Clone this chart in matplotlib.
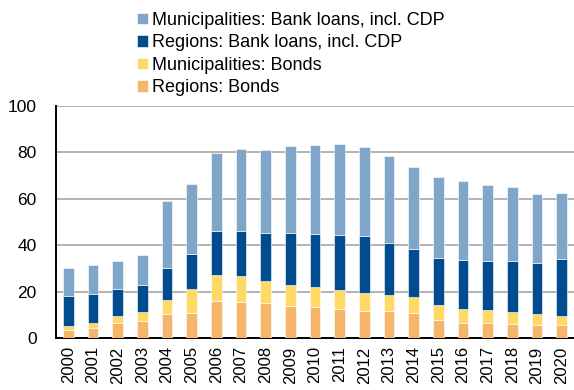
import matplotlib
matplotlib.use("Agg")
import matplotlib.pyplot as plt
import numpy as np

plt.rcParams['font.family'] = ['Liberation Sans', 'DejaVu Sans']

years = [str(y) for y in range(2000, 2021)]
# cumulative readings (stack tops) from the picture
tot_top = [30.3, 31.3, 33.4, 35.6, 59.1, 66.4, 79.7, 81.4, 81.1, 82.9, 83.2,
           83.6, 82.2, 78.3, 73.8, 69.2, 67.7, 66.0, 64.9, 62.0, 62.3]
blue_top = [18.0, 18.9, 21.0, 22.8, 30.1, 36.3, 46.1, 46.1, 45.4, 45.4, 44.7,
            44.2, 43.9, 40.9, 38.2, 34.6, 33.7, 33.1, 33.1, 32.3, 33.9]
yel_top = [5.3, 6.5, 9.4, 11.1, 16.3, 21.0, 27.1, 26.6, 24.5, 22.8, 21.9,
           20.6, 19.5, 18.7, 17.7, 14.1, 12.5, 11.9, 11.1, 10.5, 9.6]
regions_bonds = [3.3, 4.2, 6.5, 7.2, 10.4, 10.8, 15.8, 15.4, 15.0, 13.8, 13.2,
                 12.4, 11.8, 11.5, 10.6, 7.8, 6.5, 6.5, 6.0, 5.5, 5.5]

regions_bonds = np.array(regions_bonds)
municipalities_bonds = np.array(yel_top) - regions_bonds
regions_bank = np.array(blue_top) - np.array(yel_top)
municipalities_bank = np.array(tot_top) - np.array(blue_top)

labels = ["Regions: Bonds", "Municipalities: Bonds",
          "Regions: Bank loans, incl. CDP", "Municipalities: Bank loans, incl. CDP"]
colors = ["#F5B66B", "#FFD966", "#004C8F", "#7FA6C9"]
series = [regions_bonds, municipalities_bonds, regions_bank, municipalities_bank]

fig = plt.figure(figsize=(5.74, 3.90), dpi=100)
ax = fig.add_axes([56/574, 1-338/390, 518/574, (338-106)/390])

x = np.arange(len(years))
bottom = np.zeros(len(years))
handles = []
for s, c, l in zip(series, colors, labels):
    h = ax.bar(x, s, bottom=bottom, width=0.42, color=c, edgecolor='white',
               linewidth=0.4, label=l, zorder=3)
    handles.append(h)
    bottom = bottom + s

ax.set_xlim(-0.5, 20.5)
ax.set_ylim(0, 100)
ax.set_yticks([0, 20, 40, 60, 80, 100])
ax.yaxis.grid(True, color='#A6A6A6', linewidth=1.2, zorder=0)
ax.set_axisbelow(True)
ax.set_xticks(x)
ax.set_xticklabels(years, rotation=90, fontsize=12)
ax.tick_params(axis='y', labelsize=12.5, length=0, pad=14)
ax.tick_params(axis='x', length=0, pad=6)
for sp in ['top', 'right']:
    ax.spines[sp].set_visible(False)
for sp in ['left', 'bottom']:
    ax.spines[sp].set_linewidth(1.4)
    ax.spines[sp].set_color('black')

fig.legend(handles[::-1], labels[::-1], loc='upper left',
           bbox_to_anchor=(128/574, 1 - 3/390), frameon=False, fontsize=13,
           handlelength=0.6, handleheight=0.6, handletextpad=0.25,
           labelspacing=0.3, borderaxespad=0.1)

fig.savefig("out.png", dpi=100)
